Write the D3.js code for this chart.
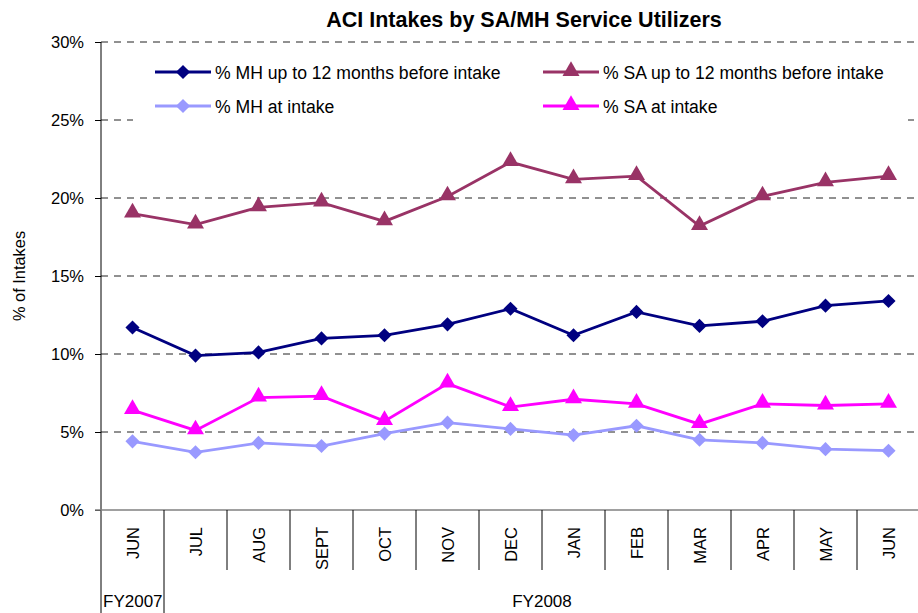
<!DOCTYPE html>
<html><head><meta charset="utf-8">
<script src="https://cdn.jsdelivr.net/npm/d3@7"></script>
<style>body{margin:0;background:#fff;} svg{display:block;font-family:"Liberation Sans",Arial,sans-serif;}</style>
</head><body>
<svg id="c" width="918" height="613"></svg>
<script>
const categories = ["JUN","JUL","AUG","SEPT","OCT","NOV","DEC","JAN","FEB","MAR","APR","MAY","JUN"];
const fiscalYears = [{label:"FY2007", start:0, end:1},{label:"FY2008", start:1, end:13}];
const mh12 = [11.7, 9.9, 10.1, 11.0, 11.2, 11.9, 12.9, 11.2, 12.7, 11.8, 12.1, 13.1, 13.4];
const sa12 = [19.0, 18.3, 19.4, 19.7, 18.5, 20.1, 22.3, 21.2, 21.4, 18.2, 20.1, 21.0, 21.4];
const mhIntake = [4.4, 3.7, 4.3, 4.1, 4.9, 5.6, 5.2, 4.8, 5.4, 4.5, 4.3, 3.9, 3.8];
const saIntake = [6.4, 5.1, 7.2, 7.3, 5.7, 8.1, 6.6, 7.1, 6.8, 5.5, 6.8, 6.7, 6.8];
const yTicks = [0, 5, 10, 15, 20, 25, 30];
const series = [
  {name:"% MH up to 12 months before intake", values:mh12, color:"#000080", marker:"diamond"},
  {name:"% SA up to 12 months before intake", values:sa12, color:"#993366", marker:"triangle"},
  {name:"% MH at intake", values:mhIntake, color:"#9999FF", marker:"diamond"},
  {name:"% SA at intake", values:saIntake, color:"#FF00FF", marker:"triangle"}
];

const svg = d3.select("#c");
const L = 101, R = 920, T = 42, B = 510;
const x = d3.scaleBand().domain(d3.range(categories.length)).range([L, R]);
const y = d3.scaleLinear().domain([0, 30]).range([B, T]);

// title
svg.append("text").attr("x", 524).attr("y", 27).attr("text-anchor","middle")
  .attr("font-size", 21.5).attr("font-weight","bold").text("ACI Intakes by SA/MH Service Utilizers");

// gridlines
svg.append("g").selectAll("line").data(yTicks.filter(d=>d>0)).join("line")
  .attr("x1", L).attr("x2", 918).attr("y1", d=>y(d)).attr("y2", d=>y(d))
  .attr("stroke","#222").attr("stroke-width",1).attr("stroke-dasharray","7,6");

// y axis
const yAxis = d3.axisLeft(y).tickValues(yTicks).tickFormat(d=>d+"%").tickSize(6).tickSizeOuter(0);
const gy = svg.append("g").attr("transform",`translate(${L},0)`).call(yAxis);
gy.select(".domain").remove();
gy.selectAll(".tick line").attr("stroke","#000");
gy.selectAll(".tick text").attr("font-size",16.5).attr("font-family","Liberation Sans, Arial, sans-serif").attr("fill","#000").attr("x",-17);
svg.append("line").attr("x1",L).attr("x2",L).attr("y1",T).attr("y2",613).attr("stroke","#000");

// x axis baseline
svg.append("line").attr("x1",95).attr("x2",R).attr("y1",B).attr("y2",B).attr("stroke","#808080").attr("stroke-width",1.5);

// category separators
svg.append("g").selectAll("line").data(d3.range(1, categories.length)).join("line")
  .attr("x1", d=>x(d)).attr("x2", d=>x(d)).attr("y1", B).attr("y2", d=> d===1 ? 613 : 570)
  .attr("stroke","#000");

// category labels
svg.append("g").selectAll("text").data(categories).join("text")
  .attr("transform",(d,i)=>`translate(${x(i)+x.bandwidth()/2+6},${527}) rotate(-90)`)
  .attr("text-anchor","end").attr("font-size",16.5).text(d=>d);

// fiscal year labels
svg.append("g").selectAll("text").data(fiscalYears).join("text")
  .attr("x", d=> d.start===0 ? x(0)+2 : (x(d.start)+R)/2 )
  .attr("text-anchor", d=> d.start===0 ? "start" : "middle")
  .attr("y", 607).attr("font-size",17).text(d=>d.label);

// y label
svg.append("text").attr("transform",`translate(25,${(T+B)/2}) rotate(-90)`)
  .attr("text-anchor","middle").attr("font-size",16.4).text("% of Intakes");

// legend background
svg.append("rect").attr("x",133).attr("y",50).attr("width",775).attr("height",76).attr("fill","#fff");

const tri = d3.symbol().type(d3.symbolTriangle).size(125);
function markerPath(m){ return m==="diamond" ? d3.symbol().type(d3.symbolSquare).size(100)() : tri(); }
function markerTransform(m,cx,cy){ return m==="diamond" ? `translate(${cx},${cy}) rotate(45)` : `translate(${cx},${cy-1})`; }

const line = d3.line().x((d,i)=>x(i)+x.bandwidth()/2).y(d=>y(d));
const order = [3,2,1,0];
order.forEach(k=>{
  const s = series[k];
  const g = svg.append("g");
  g.append("path").datum(s.values).attr("d", line).attr("fill","none").attr("stroke", s.color).attr("stroke-width",2.8);
  g.selectAll("path.m").data(s.values).join("path").attr("class","m")
    .attr("d", markerPath(s.marker))
    .attr("transform",(d,i)=>markerTransform(s.marker, x(i)+x.bandwidth()/2, y(d)))
    .attr("fill", s.color);
});

// legend
const legPos = [[155,72],[543,72],[155,106],[543,106]];
series.forEach((s,k)=>{
  const [lx,ly] = legPos[k];
  const g = svg.append("g");
  g.append("line").attr("x1",lx).attr("x2",lx+56).attr("y1",ly).attr("y2",ly).attr("stroke",s.color).attr("stroke-width",2.8);
  g.append("path").attr("d", markerPath(s.marker)).attr("transform", markerTransform(s.marker, lx+28, ly)).attr("fill", s.color);
  g.append("text").attr("x", lx+60).attr("y", ly+6.5).attr("font-size",17.6).text(s.name);
});
</script>
</body></html>
